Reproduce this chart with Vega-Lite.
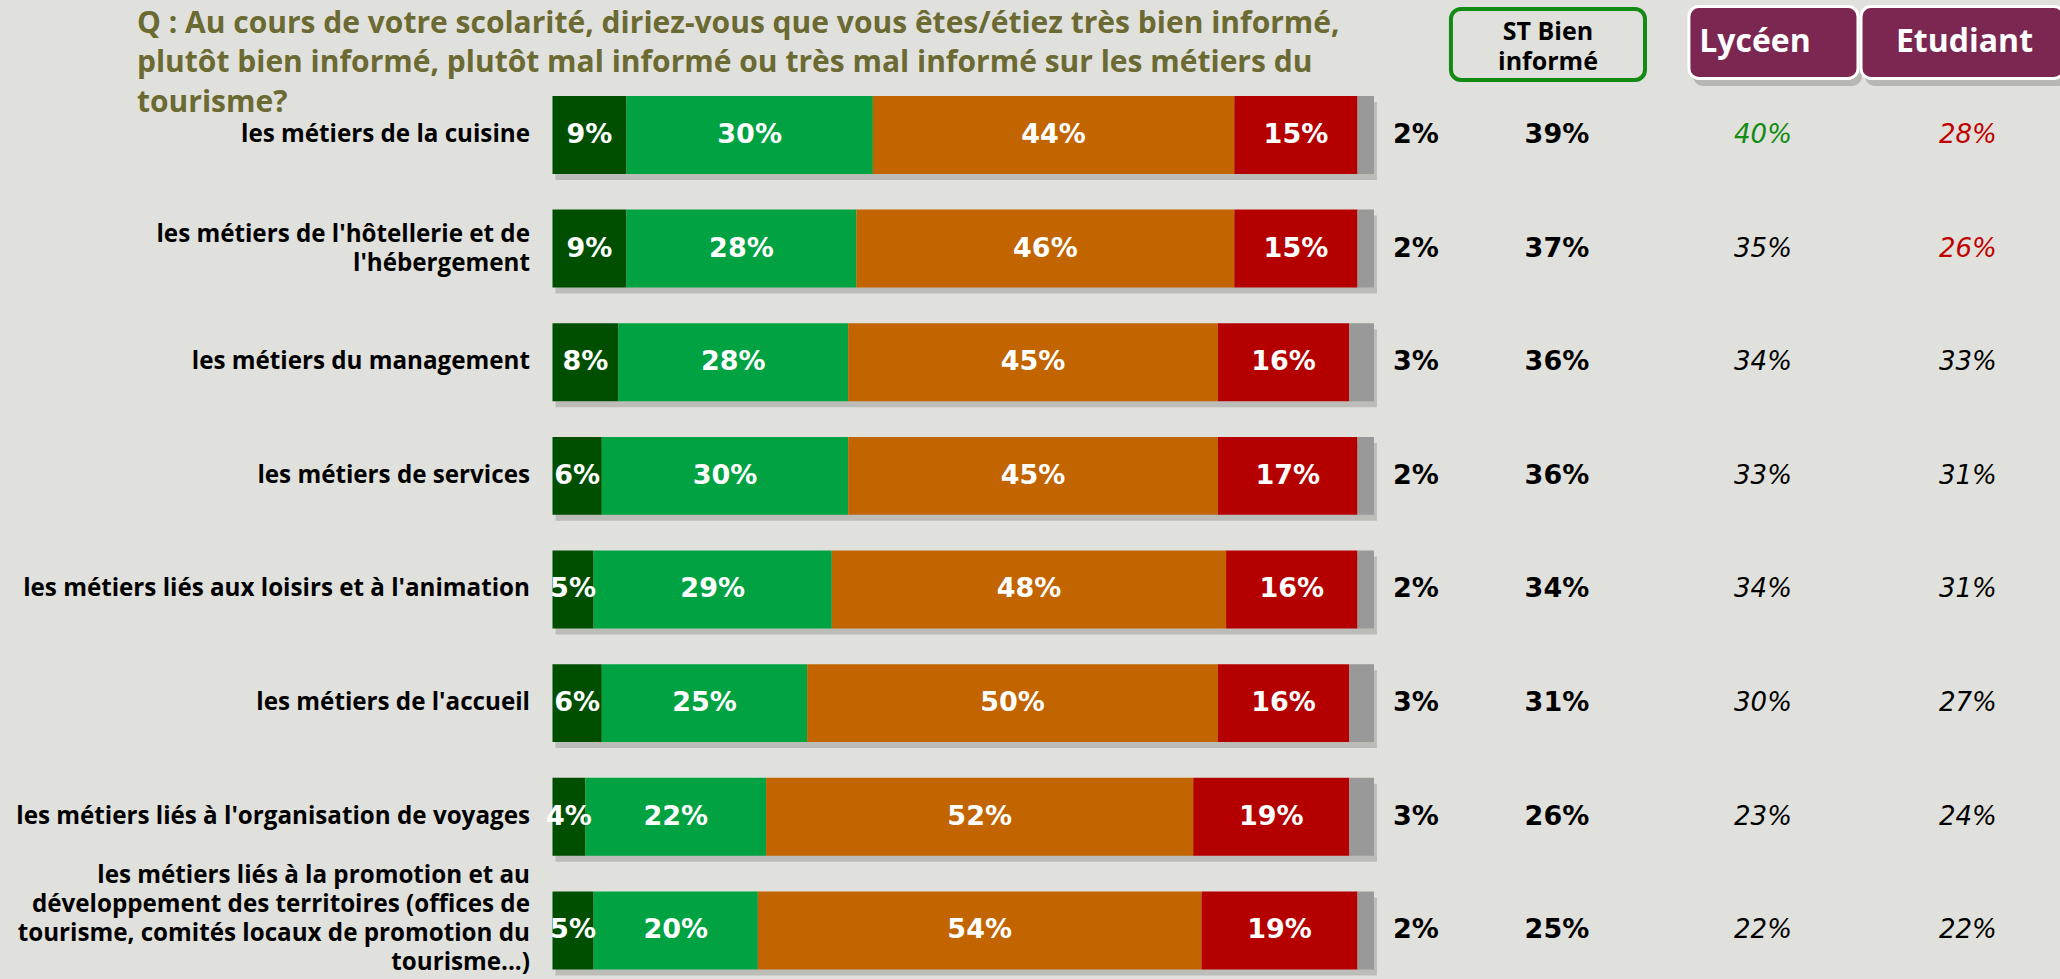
{
  "$schema": "https://vega.github.io/schema/vega-lite/v6.json",
  "width": 2060,
  "height": 979,
  "padding": 0,
  "autosize": {"type": "none"},
  "background": "#E0E1DC",
  "config": {"view": {"stroke": null}, "font": "Open Sans"},
  "data": {
    "values": [
      {"metier": "les métiers de la cuisine", "Très bien informé": 0.09, "Plutôt bien informé": 0.30, "Plutôt mal informé": 0.44, "Très mal informé": 0.15, "NSP": 0.02, "st_bien_informe": 0.39, "lyceen": 0.40, "etudiant": 0.28},
      {"metier": "les métiers de l'hôtellerie et de\nl'hébergement", "Très bien informé": 0.09, "Plutôt bien informé": 0.28, "Plutôt mal informé": 0.46, "Très mal informé": 0.15, "NSP": 0.02, "st_bien_informe": 0.37, "lyceen": 0.35, "etudiant": 0.26},
      {"metier": "les métiers du management", "Très bien informé": 0.08, "Plutôt bien informé": 0.28, "Plutôt mal informé": 0.45, "Très mal informé": 0.16, "NSP": 0.03, "st_bien_informe": 0.36, "lyceen": 0.34, "etudiant": 0.33},
      {"metier": "les métiers de services", "Très bien informé": 0.06, "Plutôt bien informé": 0.30, "Plutôt mal informé": 0.45, "Très mal informé": 0.17, "NSP": 0.02, "st_bien_informe": 0.36, "lyceen": 0.33, "etudiant": 0.31},
      {"metier": "les métiers liés aux loisirs et à l'animation", "Très bien informé": 0.05, "Plutôt bien informé": 0.29, "Plutôt mal informé": 0.48, "Très mal informé": 0.16, "NSP": 0.02, "st_bien_informe": 0.34, "lyceen": 0.34, "etudiant": 0.31},
      {"metier": "les métiers de l'accueil", "Très bien informé": 0.06, "Plutôt bien informé": 0.25, "Plutôt mal informé": 0.50, "Très mal informé": 0.16, "NSP": 0.03, "st_bien_informe": 0.31, "lyceen": 0.30, "etudiant": 0.27},
      {"metier": "les métiers liés à l'organisation de voyages", "Très bien informé": 0.04, "Plutôt bien informé": 0.22, "Plutôt mal informé": 0.52, "Très mal informé": 0.19, "NSP": 0.03, "st_bien_informe": 0.26, "lyceen": 0.23, "etudiant": 0.24},
      {"metier": "les métiers liés à la promotion et au\ndéveloppement des territoires (offices de\ntourisme, comités locaux de promotion du\ntourisme...)", "Très bien informé": 0.05, "Plutôt bien informé": 0.20, "Plutôt mal informé": 0.54, "Très mal informé": 0.19, "NSP": 0.02, "st_bien_informe": 0.25, "lyceen": 0.22, "etudiant": 0.22}
    ]
  },
  "layer": [
    {
      "mark": {"type": "bar", "color": "#000000", "opacity": 0.16, "xOffset": 3, "x2Offset": 3, "yOffset": 6},
      "encoding": {
        "x": {"datum": 0, "type": "quantitative", "scale": {"domain": [-0.67255, 1.83511], "nice": false, "zero": false}, "axis": null},
        "x2": {"datum": 1},
        "y": {"field": "metier", "type": "nominal", "sort": null, "axis": null, "scale": {"paddingInner": 0.314, "paddingOuter": 0.4645, "align": 0.909}}
      }
    },
    {
      "transform": [
        {"fold": ["Très bien informé", "Plutôt bien informé", "Plutôt mal informé", "Très mal informé", "NSP"], "as": ["niveau", "pct"]},
        {"window": [{"op": "row_number", "as": "rang"}], "groupby": ["metier"]}
      ],
      "mark": {"type": "bar"},
      "encoding": {
        "x": {"field": "pct", "type": "quantitative", "stack": "zero", "scale": {"domain": [-0.67255, 1.83511], "nice": false, "zero": false}, "axis": null},
        "y": {"field": "metier", "type": "nominal", "sort": null, "axis": null},
        "color": {"field": "niveau", "type": "nominal", "scale": {"domain": ["Très bien informé", "Plutôt bien informé", "Plutôt mal informé", "Très mal informé", "NSP"], "range": ["#004F00", "#00A241", "#C26400", "#B50000", "#999999"]}, "legend": null},
        "order": {"field": "rang", "type": "quantitative"}
      }
    },
    {
      "transform": [
        {"fold": ["Très bien informé", "Plutôt bien informé", "Plutôt mal informé", "Très mal informé", "NSP"], "as": ["niveau", "pct"]},
        {"window": [{"op": "row_number", "as": "rang"}], "groupby": ["metier"]},
        {"filter": "datum.niveau !== 'NSP'"}
      ],
      "mark": {"type": "text", "font": "DejaVu Sans", "fontWeight": "bold", "fontSize": 27, "color": "#FFFFFF", "baseline": "middle", "align": "center"},
      "encoding": {
        "x": {"field": "pct", "type": "quantitative", "stack": "zero", "bandPosition": 0.5},
        "y": {"field": "metier", "type": "nominal", "sort": null},
        "detail": {"field": "niveau", "type": "nominal"},
        "order": {"field": "rang", "type": "quantitative"},
        "text": {"field": "pct", "type": "quantitative", "format": ".0%"}
      }
    },
    {
      "transform": [{"filter": "indexof(datum.metier, '\\n') < 0"}],
      "mark": {"type": "text", "align": "right", "baseline": "middle", "font": "Open Sans", "fontWeight": "bold", "fontSize": 24.2, "color": "#000000"},
      "encoding": {
        "x": {"datum": -0.0274, "type": "quantitative"},
        "y": {"field": "metier", "type": "nominal", "sort": null},
        "text": {"field": "metier", "type": "nominal"}
      }
    },
    {
      "transform": [{"filter": "length(split(datum.metier, '\\n')) == 2"}],
      "mark": {"type": "text", "align": "right", "baseline": "middle", "font": "Open Sans", "fontWeight": "bold", "fontSize": 24.2, "lineBreak": "\n", "lineHeight": 29, "color": "#000000", "dy": -13.5},
      "encoding": {
        "x": {"datum": -0.0274, "type": "quantitative"},
        "y": {"field": "metier", "type": "nominal", "sort": null},
        "text": {"field": "metier", "type": "nominal"}
      }
    },
    {
      "transform": [{"filter": "length(split(datum.metier, '\\n')) == 4"}],
      "mark": {"type": "text", "align": "right", "baseline": "middle", "font": "Open Sans", "fontWeight": "bold", "fontSize": 24.2, "lineBreak": "\n", "lineHeight": 29, "color": "#000000", "dy": -54},
      "encoding": {
        "x": {"datum": -0.0274, "type": "quantitative"},
        "y": {"field": "metier", "type": "nominal", "sort": null},
        "text": {"field": "metier", "type": "nominal"}
      }
    },
    {
      "mark": {"type": "text", "align": "center", "baseline": "middle", "font": "DejaVu Sans", "fontWeight": "bold", "fontSize": 27, "color": "#000000"},
      "encoding": {
        "x": {"datum": 1.051, "type": "quantitative"},
        "y": {"field": "metier", "type": "nominal", "sort": null},
        "text": {"field": "NSP", "type": "quantitative", "format": ".0%"}
      }
    },
    {
      "mark": {"type": "text", "align": "center", "baseline": "middle", "font": "DejaVu Sans", "fontWeight": "bold", "fontSize": 27, "color": "#000000"},
      "encoding": {
        "x": {"datum": 1.2227, "type": "quantitative"},
        "y": {"field": "metier", "type": "nominal", "sort": null},
        "text": {"field": "st_bien_informe", "type": "quantitative", "format": ".0%"}
      }
    },
    {
      "mark": {"type": "text", "align": "center", "baseline": "middle", "font": "DejaVu Sans", "fontStyle": "italic", "fontSize": 26},
      "encoding": {
        "x": {"datum": 1.4735, "type": "quantitative"},
        "y": {"field": "metier", "type": "nominal", "sort": null},
        "text": {"field": "lyceen", "type": "quantitative", "format": ".0%"},
        "color": {"condition": {"test": "datum.lyceen > datum.st_bien_informe", "value": "#128C12"}, "value": "#000000"}
      }
    },
    {
      "mark": {"type": "text", "align": "center", "baseline": "middle", "font": "DejaVu Sans", "fontStyle": "italic", "fontSize": 26},
      "encoding": {
        "x": {"datum": 1.723, "type": "quantitative"},
        "y": {"field": "metier", "type": "nominal", "sort": null},
        "text": {"field": "etudiant", "type": "quantitative", "format": ".0%"},
        "color": {"condition": {"test": "datum.st_bien_informe - datum.etudiant >= 0.1", "value": "#C00000"}, "value": "#000000"}
      }
    },
    {
      "data": {"values": [{"question": "Q : Au cours de votre scolarité, diriez-vous que vous êtes/étiez très bien informé,\nplutôt bien informé, plutôt mal informé ou très mal informé sur les métiers du\ntourisme?"}]},
      "mark": {"type": "text", "align": "left", "baseline": "middle", "font": "Open Sans", "fontWeight": "bold", "fontSize": 30, "lineBreak": "\n", "lineHeight": 39.5, "color": "#6C6A33", "dy": -111},
      "encoding": {
        "x": {"datum": -0.5058, "type": "quantitative"},
        "y": {"datum": "les métiers de la cuisine", "type": "nominal"},
        "text": {"field": "question", "type": "nominal"}
      }
    },
    {
      "data": {"values": [{"entete": "ST Bien\ninformé"}]},
      "layer": [
        {
          "mark": {"type": "rect", "height": 71, "yOffset": -90.5, "cornerRadius": 10, "fill": "#E0E1DC", "stroke": "#138A13", "strokeWidth": 4},
          "encoding": {
            "x": {"datum": 1.0937, "type": "quantitative"},
            "x2": {"datum": 1.3299},
            "y": {"datum": "les métiers de la cuisine", "type": "nominal"}
          }
        },
        {
          "mark": {"type": "text", "align": "center", "baseline": "middle", "font": "Open Sans", "fontWeight": "bold", "fontSize": 25, "lineBreak": "\n", "lineHeight": 30, "color": "#000000", "dy": -103},
          "encoding": {
            "x": {"datum": 1.2118, "type": "quantitative"},
            "y": {"datum": "les métiers de la cuisine", "type": "nominal"},
            "text": {"field": "entete", "type": "nominal"}
          }
        }
      ]
    },
    {
      "data": {"values": [{"entete": "Lycéen"}]},
      "layer": [
        {
          "mark": {"type": "rect", "height": 72, "yOffset": -85, "xOffset": 4, "x2Offset": 4, "cornerRadius": 10, "fill": "#000000", "opacity": 0.18},
          "encoding": {
            "x": {"datum": 1.3834, "type": "quantitative"},
            "x2": {"datum": 1.5892},
            "y": {"datum": "les métiers de la cuisine", "type": "nominal"}
          }
        },
        {
          "mark": {"type": "rect", "height": 72, "yOffset": -92.5, "cornerRadius": 10, "fill": "#7B2751", "stroke": "#FFFFFF", "strokeWidth": 3},
          "encoding": {
            "x": {"datum": 1.3834, "type": "quantitative"},
            "x2": {"datum": 1.5892},
            "y": {"datum": "les métiers de la cuisine", "type": "nominal"}
          }
        },
        {
          "mark": {"type": "text", "align": "center", "baseline": "middle", "font": "Open Sans", "fontWeight": "bold", "fontSize": 32, "color": "#FFFFFF", "dy": -93},
          "encoding": {
            "x": {"datum": 1.4638, "type": "quantitative"},
            "y": {"datum": "les métiers de la cuisine", "type": "nominal"},
            "text": {"field": "entete", "type": "nominal"}
          }
        }
      ]
    },
    {
      "data": {"values": [{"entete": "Etudiant"}]},
      "layer": [
        {
          "mark": {"type": "rect", "height": 72, "yOffset": -85, "xOffset": 4, "x2Offset": 4, "cornerRadius": 10, "fill": "#000000", "opacity": 0.18},
          "encoding": {
            "x": {"datum": 1.5929, "type": "quantitative"},
            "x2": {"datum": 1.8399},
            "y": {"datum": "les métiers de la cuisine", "type": "nominal"}
          }
        },
        {
          "mark": {"type": "rect", "height": 72, "yOffset": -92.5, "cornerRadius": 10, "fill": "#7B2751", "stroke": "#FFFFFF", "strokeWidth": 3},
          "encoding": {
            "x": {"datum": 1.5929, "type": "quantitative"},
            "x2": {"datum": 1.8399},
            "y": {"datum": "les métiers de la cuisine", "type": "nominal"}
          }
        },
        {
          "mark": {"type": "text", "align": "center", "baseline": "middle", "font": "Open Sans", "fontWeight": "bold", "fontSize": 32, "color": "#FFFFFF", "dy": -93},
          "encoding": {
            "x": {"datum": 1.7188, "type": "quantitative"},
            "y": {"datum": "les métiers de la cuisine", "type": "nominal"},
            "text": {"field": "entete", "type": "nominal"}
          }
        }
      ]
    }
  ]
}
